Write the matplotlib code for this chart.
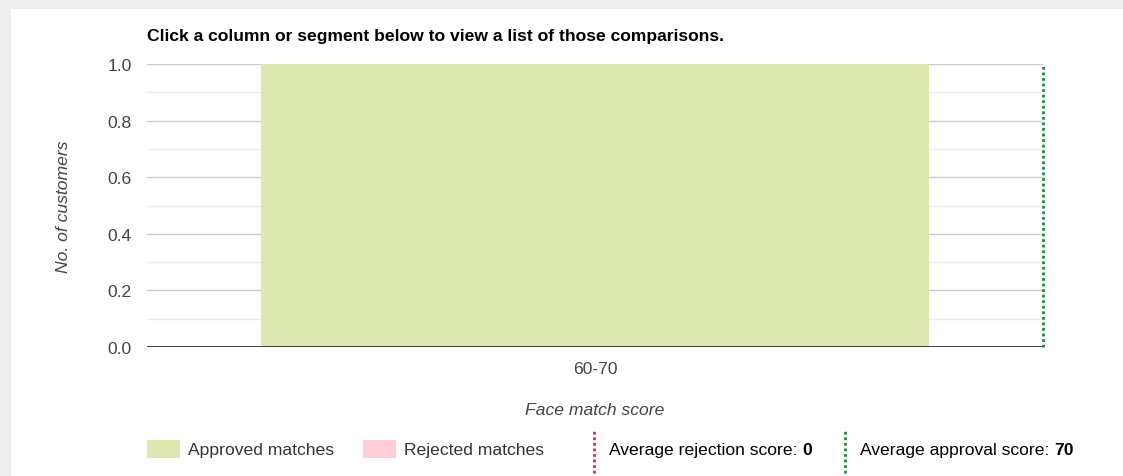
import matplotlib.pyplot as plt
from matplotlib.patches import Rectangle
from matplotlib.lines import Line2D

plt.rcParams['font.family'] = ['Liberation Sans', 'DejaVu Sans']

# Histogram data
bin_labels = ["60-70"]
approved = [1]
rejected = [0]
avg_rejection = 0
avg_approval = 70

APPROVED_COLOR = "#dde7b0"
REJECTED_COLOR = "#ffcdd3"
RED_LINE = "#e02a36"
GREEN_LINE = "#14912f"
FS = 12.6
DOTS = (0, (1, 1))

W, H = 1123, 477
fig = plt.figure(figsize=(W / 100, H / 100), dpi=100, facecolor="#eeeeee")

# white panel behind everything
fig.patches.append(Rectangle((11 / W, 0), 1 - 11 / W, 1 - 10 / H,
                             transform=fig.transFigure, facecolor="white",
                             edgecolor="none", zorder=-5))

ax = fig.add_axes([147 / W, (H - 348) / H, 896 / W, 283 / H])
ax.set_facecolor("none")

edges = [tuple(float(v) for v in lab.split("-")) for lab in bin_labels]
lo = min(e[0] for e in edges)
hi = max(e[1] for e in edges)
centers = [(a + b) / 2 for a, b in edges]
widths = [0.745 * (b - a) for a, b in edges]

ax.bar(centers, approved, width=widths, color=APPROVED_COLOR, zorder=2)
ax.bar(centers, rejected, width=widths, bottom=approved, color=REJECTED_COLOR, zorder=2)

ax.set_xlim(lo, hi)
ax.set_ylim(0, 1)
ax.set_xticks(centers)
ax.set_xticklabels(bin_labels)
ax.set_yticks([0, 0.2, 0.4, 0.6, 0.8, 1.0])
ax.set_yticklabels(["0.0", "0.2", "0.4", "0.6", "0.8", "1.0"])
ax.set_yticks([0.1, 0.3, 0.5, 0.7, 0.9], minor=True)
ax.grid(axis="y", which="major", color="#cccccc", lw=1, zorder=1)
ax.grid(axis="y", which="minor", color="#ececec", lw=1, zorder=1)
ax.tick_params(axis="both", which="both", length=0, labelsize=FS, labelcolor="#444444")
ax.tick_params(axis="y", pad=11)
ax.tick_params(axis="x", pad=10)
for s in ax.spines.values():
    s.set_visible(False)
ax.axhline(0, color="#333333", lw=1.3, zorder=3)

# average score markers
for val, col in [(avg_rejection, RED_LINE), (avg_approval, GREEN_LINE)]:
    if lo <= val <= hi:
        ax.axvline(val, color=col, lw=2, ls=DOTS, clip_on=False, zorder=4)

ax.set_ylabel("No. of customers", fontstyle="italic", fontsize=FS, color="#444444", labelpad=26)
ax.set_xlabel("Face match score", fontstyle="italic", fontsize=FS, color="#444444", labelpad=19)

fig.text(147 / W, 1 - 37 / H, "Click a column or segment below to view a list of those comparisons.",
         fontsize=FS, fontweight="bold", va="center", ha="left", color="black")

# legend row
ly = 1 - 451 / H
for x0, col, label in [(147, APPROVED_COLOR, "Approved matches"),
                       (363, REJECTED_COLOR, "Rejected matches")]:
    fig.patches.append(Rectangle((x0 / W, 1 - 459 / H), 33 / W, 18 / H,
                                 transform=fig.transFigure, facecolor=col, edgecolor="none"))
    fig.text((x0 + 41) / W, ly, label, fontsize=FS, va="center", ha="left", color="#333333")

for x0, col, label, val in [(594, RED_LINE, "Average rejection score: ", avg_rejection),
                            (845, GREEN_LINE, "Average approval score: ", avg_approval)]:
    fig.lines.append(Line2D([x0 / W, x0 / W], [1 - 474 / H, 1 - 432 / H],
                            transform=fig.transFigure, color=col, lw=2, ls=DOTS))
    t = fig.text((x0 + 15) / W, ly, label, fontsize=FS, va="center", ha="left", color="black")
    fig.canvas.draw()
    bb = t.get_window_extent()
    fig.text(bb.x1 / W, ly, str(val), fontsize=FS, fontweight="bold", va="center", ha="left",
             color="black")

fig.savefig("out.png", dpi=100, facecolor=fig.get_facecolor())
